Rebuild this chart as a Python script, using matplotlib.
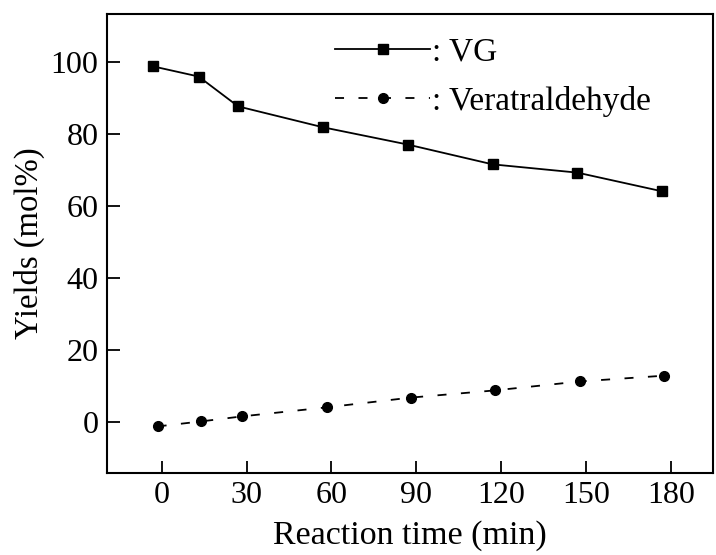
import matplotlib
matplotlib.use("Agg")
from matplotlib import pyplot as plt

plt.rcParams['font.family'] = ['Liberation Serif', 'DejaVu Serif']

# reaction time (min) and yields (mol%)
vg_time = [-3, 13, 27, 57, 87, 117, 147, 177]
vg_yield = [98.9, 96.1, 87.8, 82.0, 77.2, 71.7, 69.4, 64.2]
vera_time = [-1.5, 14, 28.5, 58.3, 88, 117.7, 148, 177.7]
vera_yield = [-1.1, 0.3, 1.7, 4.2, 6.9, 8.9, 11.4, 13.0]

xticks = [0, 30, 60, 90, 120, 150, 180]
yticks = [0, 20, 40, 60, 80, 100]

fig = plt.figure(figsize=(7.16, 5.55), dpi=100)
ax = fig.add_axes([0.149, 0.148, 0.847, 0.827])

ax.plot(vg_time, vg_yield, '-', color='black', lw=1.3,
        marker='s', markersize=7, label=': VG')
ax.plot(vera_time, vera_yield, '--', color='black', lw=1.3,
        dashes=(5, 8), marker='o', markersize=7, label=': Veratraldehyde')

ax.set_xlim(-19.5, 195)
ax.set_ylim(-14, 113.5)
ax.set_xticks(xticks)
ax.set_yticks(yticks)
ax.tick_params(direction='in', length=9, width=1.3, labelsize=23, pad=6)
for s in ax.spines.values():
    s.set_linewidth(1.5)

ax.set_xlabel('Reaction time (min)', fontsize=24.5, labelpad=7)
ax.set_ylabel('Yields (mol%)', fontsize=23.5, labelpad=4)

ax.legend(loc='upper left', bbox_to_anchor=(0.355, 0.978), frameon=False,
          fontsize=24, handlelength=2.85, handletextpad=0.05, numpoints=1,
          borderaxespad=0, labelspacing=0.55)

fig.savefig('out.png', dpi=100)
